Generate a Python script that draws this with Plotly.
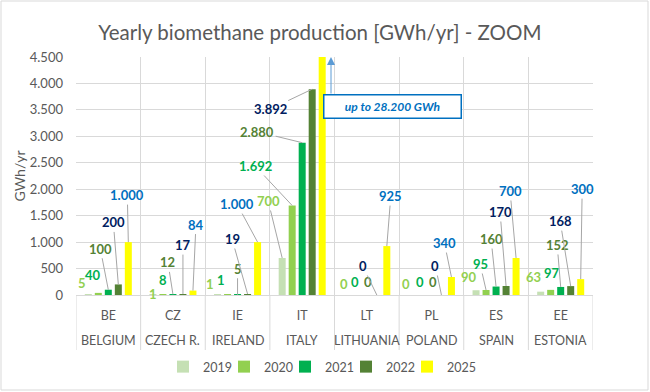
import plotly.graph_objects as go

# ---------------- data ----------------
country_codes = ["BE", "CZ", "IE", "IT", "LT", "PL", "ES", "EE"]
country_names = ["BELGIUM", "CZECH R.", "IRELAND", "ITALY", "LITHUANIA", "POLAND", "SPAIN", "ESTONIA"]
years = ["2019", "2020", "2021", "2022", "2025"]
prod_2019 = [5, 1, 1, 700, 0, 0, 90, 63]
prod_2020 = [40, 8, 1, 1692, 0, 0, 95, 97]
prod_2021 = [100, 12, 5, 2880, 0, 0, 160, 152]
prod_2022 = [200, 17, 19, 3892, 0, 0, 170, 168]
prod_2025 = [1000, 84, 1000, 28200, 925, 340, 700, 300]
y_max = 4500
y_ticks = list(range(0, 4501, 500))

series = [prod_2019, prod_2020, prod_2021, prod_2022, prod_2025]

# ---------------- styles ----------------
bar_colors = ["#C5E0B4", "#92D050", "#00B050", "#548235", "#FFFF00"]
label_colors = ["#92D050", "#00B050", "#548235", "#002060", "#0070C0"]
GRID = "#D9D9D9"
TXT = "#595959"
FONT = "Lato"

# label placement (pixel offsets from bar top), None = special
off_2019 = [(-6, -12), (0, -1), (-7.5, -11), (-14, -57), (-3, -11), (-5, -11), (-7, -13.5), (-7.5, -14.5)]
off_2020 = [(-5, -18), (0, -15), (-6.5, -15), (-37, -39.5), (-1.5, -13), (-1.5, -13), (-6, -26), (1.5, -17)]
off_2021 = [(-8, -41), (-5, -32), (0, -26), (-45, -11), (1.5, -13), (2, -13), (-5, -47.5), (-3.5, -42)]
off_2022 = [(-5, -62), (0, -49), (-15.5, -55), (-42, 20), (-14, -29), (-6, -29), (-6, -74), (-10.5, -65)]
off_2025 = [(-1, -47), (3, -66), (-20.5, -38), None, (4, -50), (-7, -34), (-6, -67), (1.5, -90)]
offsets = [off_2019, off_2020, off_2021, off_2022, off_2025]

W, H = 650, 392
ML, MR, MT, MB = 76, 57, 57, 97
BARGAP, BARGROUPGAP = 0.226, 0.3
slot = (1 - BARGAP) / len(years)
plot_w = W - ML - MR
plot_h = H - MT - MB
LEGEND_CX, LEGEND_PITCH, LEGEND_CY = 322, 61, 367


def fmt(v):
    return f"{v:,}".replace(",", ".")


fig = go.Figure()
legend_ids = ["legend"] + ["legend%d" % (i + 2) for i in range(len(years) - 1)]
for yr, vals, col, lid in zip(years, series, bar_colors, legend_ids):
    fig.add_trace(go.Bar(x=country_codes, y=vals, name=yr, marker_color=col,
                         marker_line_width=0, hoverinfo="skip", legend=lid))

annotations = []
for si, (vals, offs) in enumerate(zip(series, offsets)):
    for ci, v in enumerate(vals):
        if offs[ci] is None:
            continue
        dx, dy = offs[ci]
        xpos = ci + (si - 2) * slot
        common = dict(x=xpos, y=v, xref="x", yref="y", text="<b>%s</b>" % fmt(v),
                      font=dict(family=FONT, size=13, color=label_colors[si]))
        if (dx * dx + dy * dy) ** 0.5 > 20:
            annotations.append(dict(common, showarrow=True, ax=dx, ay=dy,
                                    arrowhead=0, arrowwidth=1, arrowcolor="#A6A6A6",
                                    standoff=0, startstandoff=0))
        else:
            annotations.append(dict(common, showarrow=False, xshift=dx, yshift=-dy,
                                    xanchor="center", yanchor="middle", borderpad=0))

# Italy 2025 off-scale note
it = country_codes.index("IT")
annotations.append(dict(x=it + 0.446, y=y_max, xref="x", yref="y", text="",
                        showarrow=True, ax=0, ay=38, arrowhead=2, arrowsize=1.6,
                        arrowwidth=1, arrowcolor="#5B9BD5", standoff=0))
annotations.append(dict(x=it + 1.40, y=3563, xref="x", yref="y",
                        text="<b><i>up to %s GWh</i></b>" % fmt(prod_2025[it]),
                        showarrow=False, bgcolor="white", bordercolor="#0070C0",
                        borderwidth=1.5, width=134, height=20,
                        font=dict(family=FONT, size=12, color="#0070C0")))

# outer category level (country names)
for ci, name in enumerate(country_names):
    annotations.append(dict(x=ci, y=0, xref="x", yref="paper", yshift=-45,
                            text=name, showarrow=False, xanchor="center", yanchor="middle",
                            font=dict(family=FONT, size=12.5, color=TXT)))

shapes = [dict(type="rect", xref="paper", yref="paper",
               x0=(1 - ML) / plot_w, x1=(W - 2 - ML) / plot_w,
               y0=-(H - 2 - (H - MB)) / plot_h, y1=(H - MB - 1) / plot_h,
               line=dict(color=GRID, width=1), layer="below")]
# category dividers below the axis
for b in range(len(country_codes) + 1):
    shapes.append(dict(type="line", xref="x", yref="paper", x0=b - 0.5, x1=b - 0.5,
                       y0=0, y1=-55 / plot_h, line=dict(color=GRID, width=1)))

n = len(years)
layout_legends = {}
for k, lid in enumerate(legend_ids):
    cx = LEGEND_CX + (k - (n - 1) / 2) * LEGEND_PITCH
    layout_legends[lid] = dict(orientation="h", x=(cx - ML) / plot_w, xanchor="center",
                               y=-(LEGEND_CY - (H - MB)) / plot_h, yanchor="middle",
                               font=dict(family=FONT, size=12.5, color=TXT),
                               bgcolor="rgba(0,0,0,0)", borderwidth=0)

fig.update_layout(
    width=W, height=H,
    margin=dict(l=ML, r=MR, t=MT, b=MB, autoexpand=False),
    paper_bgcolor="white", plot_bgcolor="white",
    separators=",.",
    font=dict(family=FONT, color=TXT, size=12),
    title=dict(text="Yearly biomethane production [GWh/yr] - ZOOM",
               x=0.492, xanchor="center", y=1 - 33 / H, yanchor="middle",
               font=dict(family=FONT, size=20.5, color=TXT)),
    barmode="group", bargap=BARGAP, bargroupgap=BARGROUPGAP,
    showlegend=True,
    annotations=annotations,
    shapes=shapes,
    **layout_legends,
)

fig.update_xaxes(type="category", range=[-0.5, len(country_codes) - 0.5],
                 showgrid=True, gridcolor=GRID, gridwidth=1, tickson="boundaries",
                 showline=True, linecolor=GRID, linewidth=1,
                 ticks="", ticklabelstandoff=9,
                 tickfont=dict(family=FONT, size=12.5, color=TXT))
fig.update_yaxes(range=[0, y_max], tickvals=y_ticks, tickformat=",d",
                 showgrid=True, gridcolor=GRID, gridwidth=1, zeroline=False,
                 showline=False, ticks="", ticklabelstandoff=12,
                 tickfont=dict(family=FONT, size=13, color=TXT),
                 title=dict(text="GWh/yr", standoff=0,
                            font=dict(family=FONT, size=14, color=TXT)))

fig.write_html("out.html", config={"displayModeBar": False},
               post_script="document.body.style.margin='0';document.body.style.overflow='hidden';")
